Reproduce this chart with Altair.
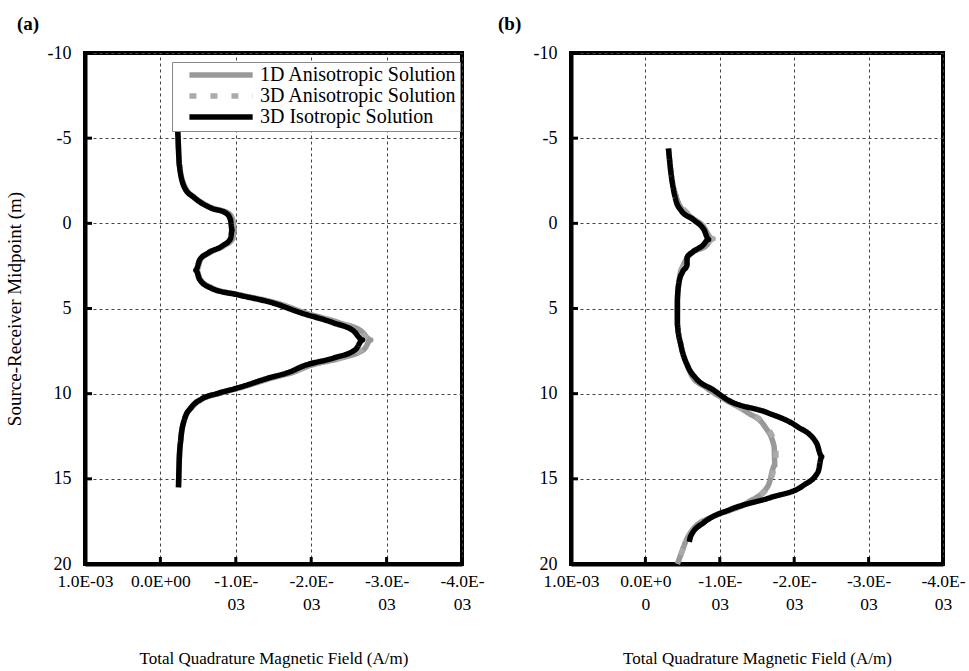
import altair as alt
import pandas as pd

SERIES = ["1D Anisotropic Solution", "3D Anisotropic Solution", "3D Isotropic Solution"]

# Panel (a) — field values in units of 1E-03 A/m, depth in m
depth_a = [-6.0, -5.4, -3.5, -2.1, -1.5, -0.9, -0.6, -0.2, 0.4, 0.9, 1.3, 1.75, 2.15, 2.75, 3.3, 3.8,
           4.2, 4.7, 5.25, 5.85, 6.35, 6.85, 7.4, 7.9, 8.4, 8.7, 9.1, 9.6, 10.0, 10.3, 10.8, 11.5, 12.7, 13.9, 15.5]
iso_a = [-0.22, -0.23, -0.25, -0.32, -0.45, -0.67, -0.87, -0.93, -0.95, -0.93, -0.83, -0.63, -0.52, -0.47,
         -0.52, -0.67, -1.03, -1.51, -1.86, -2.30, -2.57, -2.68, -2.59, -2.30, -1.88, -1.73, -1.42, -1.07,
         -0.75, -0.55, -0.41, -0.32, -0.27, -0.25, -0.24]
an1_a = [-0.22, -0.23, -0.25, -0.33, -0.46, -0.69, -0.90, -0.96, -0.98, -0.96, -0.85, -0.64, -0.53, -0.48,
         -0.53, -0.69, -1.06, -1.56, -1.92, -2.38, -2.67, -2.79, -2.70, -2.40, -1.95, -1.79, -1.46, -1.10,
         -0.77, -0.56, -0.42, -0.32, -0.27, -0.25, -0.24]
an3_a = [-0.22, -0.23, -0.25, -0.33, -0.46, -0.68, -0.89, -0.95, -0.97, -0.95, -0.84, -0.64, -0.53, -0.48,
         -0.53, -0.68, -1.05, -1.54, -1.90, -2.36, -2.65, -2.77, -2.68, -2.38, -1.93, -1.77, -1.45, -1.09,
         -0.76, -0.56, -0.42, -0.32, -0.27, -0.25, -0.24]

# Panel (b)
depth_b_iso = [-4.4, -3.1, -1.35, -0.75, -0.2, 0.4, 0.95, 1.3, 1.7, 2.0, 2.45, 2.85, 3.5, 4.5, 5.9, 7.2,
               8.4, 9.1, 9.8, 10.35, 11.1, 11.9, 12.9, 13.7, 14.6, 15.4, 16.1, 16.8, 17.55, 18.35, 18.7]
iso_b = [-0.31, -0.34, -0.41, -0.48, -0.65, -0.79, -0.85, -0.77, -0.63, -0.56, -0.56, -0.50, -0.45, -0.43,
         -0.43, -0.48, -0.57, -0.68, -0.92, -1.10, -1.63, -2.03, -2.30, -2.37, -2.32, -2.12, -1.68, -1.14,
         -0.79, -0.61, -0.59]
depth_b_an = [-4.4, -3.1, -1.5, -1.15, -0.5, 0.2, 0.9, 1.3, 1.7, 2.1, 2.55, 2.9, 3.5, 4.5, 5.9, 7.2,
              8.4, 9.0, 9.6, 10.3, 11.1, 11.9, 13.1, 14.2, 15.4, 16.4, 17.2, 17.9, 18.7, 19.4, 20.0]
an1_b = [-0.31, -0.34, -0.42, -0.45, -0.58, -0.78, -0.90, -0.82, -0.64, -0.55, -0.50, -0.47, -0.45, -0.43,
         -0.43, -0.48, -0.57, -0.63, -0.80, -1.05, -1.37, -1.60, -1.73, -1.74, -1.65, -1.37, -0.92, -0.65,
         -0.54, -0.48, -0.43]
an3_b = [-0.31, -0.34, -0.42, -0.46, -0.59, -0.79, -0.91, -0.81, -0.63, -0.55, -0.51, -0.47, -0.45, -0.43,
         -0.43, -0.48, -0.57, -0.64, -0.81, -1.06, -1.38, -1.62, -1.75, -1.76, -1.66, -1.38, -0.93, -0.66,
         -0.55, -0.48, -0.43]

x_ticks = [1, 0, -1, -2, -3, -4]
y_ticks = [-10, -5, 0, 5, 10, 15, 20]

FONT = "Liberation Serif"
H = 511


def table(parts):
    rows = []
    for name, depths, vals in parts:
        for d, v in zip(depths, vals):
            rows.append({"series": name, "depth": d, "field": v})
    return pd.DataFrame(rows)


df_a = table([(SERIES[0], depth_a, an1_a), (SERIES[1], depth_a, an3_a), (SERIES[2], depth_a, iso_a)])
df_b = table([(SERIES[0], depth_b_an, an1_b), (SERIES[1], depth_b_an, an3_b), (SERIES[2], depth_b_iso, iso_b)])
df_xt = pd.DataFrame({"field": x_ticks})
df_yt = pd.DataFrame({"depth": y_ticks})

label_a = ("datum.value == 1 ? '1.0E-03' : datum.value == 0 ? '0.0E+00' : "
           "['-' + format(-datum.value, '.1f') + 'E-', '03']")
label_b = ("datum.value == 1 ? '1.0E-03' : datum.value == 0 ? ['0.0E+0', '0'] : "
           "['-' + format(-datum.value, '.1f') + 'E-', '03']")
label_y = "datum.value < 0 ? '-' + (-datum.value) : '' + datum.value"

XSCALE = alt.Scale(domain=[-4, 1], reverse=True, nice=False, zero=False)
YSCALE = alt.Scale(domain=[-10, 20], reverse=True, nice=False, zero=False)


def panel(df, label_expr, show_title, show_legend, title_text, title_dx, w):
    leg = None
    if show_legend:
        leg = alt.Legend(orient="none", legendX=87, legendY=9, title=None, fillColor="white",
                         strokeColor="#888888", padding=3, symbolType="M0.7,0H10.7", symbolSize=160,
                         symbolStrokeWidth=4, labelFont=FONT, labelFontSize=20, labelColor="black",
                         rowPadding=-2, labelOffset=65, labelLimit=400,
                         labelExpr="datum.label + ' '")
    x = alt.X("field:Q", scale=XSCALE,
              axis=alt.Axis(values=x_ticks, labelExpr=label_expr,
                            title="Total Quadrature Magnetic Field (A/m)", labelFontSize=17.5,
                            labelOverlap=False, labelFlush=False, labelBound=False,
                            labelLineHeight=23, labelPadding=8, titlePadding=38))
    y = alt.Y("depth:Q", scale=YSCALE,
              axis=alt.Axis(values=y_ticks, labelExpr=label_y,
                            title="Source-Receiver Midpoint (m)" if show_title else None,
                            titleFontSize=19,
                            labelOverlap=False, labelFlush=False, labelBound=False,
                            labelPadding=14, titlePadding=23))
    lines = alt.Chart(df).mark_line(strokeCap="butt", strokeJoin="round", interpolate="monotone").encode(
        x=x, y=y,
        order=alt.Order("depth:Q"),
        color=alt.Color("series:N", scale=alt.Scale(domain=SERIES, range=["#999999", "#aaaaaa", "#000000"]),
                        legend=leg),
        strokeDash=alt.StrokeDash("series:N", scale=alt.Scale(domain=SERIES, range=[[1, 0], [7, 14], [1, 0]]),
                                  legend=leg),
        strokeWidth=alt.StrokeWidth("series:N", scale=alt.Scale(domain=SERIES, range=[5.5, 5.5, 4.2]),
                                    legend=None),
    )
    xt = alt.Chart(df_xt).mark_rule(color="black", strokeWidth=3).encode(
        x=alt.X("field:Q", scale=XSCALE), y=alt.value(H - 7), y2=alt.value(H))
    yt = alt.Chart(df_yt).mark_rule(color="black", strokeWidth=3).encode(
        y=alt.Y("depth:Q", scale=YSCALE), x=alt.value(0), x2=alt.value(7))
    return alt.layer(lines, xt, yt).properties(
        width=w, height=H,
        title=alt.TitleParams(title_text, anchor="start", frame="group", dx=title_dx, fontSize=19,
                              fontWeight="bold", font=FONT, offset=10, color="black"),
    )


pa = panel(df_a, label_a, True, True, "(a)", -68, 377)
pb = panel(df_b, label_b, False, False, "(b)", -73, 372)

chart = alt.hconcat(pa, pb, spacing=9).resolve_scale(
    color="independent", strokeDash="independent", strokeWidth="independent"
).properties(
    padding={"left": 3, "top": 13, "right": 0, "bottom": 0}
).configure_view(
    stroke="black", strokeWidth=4
).configure_axis(
    labelFont=FONT, titleFont=FONT, labelFontSize=18, titleFontSize=17,
    labelColor="black", titleColor="black", titleFontWeight="normal",
    domainColor="black", domainWidth=4, ticks=False,
    grid=True, gridColor="#444444", gridDash=[3, 3], gridWidth=1,
).configure_axisY(
    labelAlign="right"
)

chart.save("out.html", embed_options={"renderer": "svg", "actions": False})
